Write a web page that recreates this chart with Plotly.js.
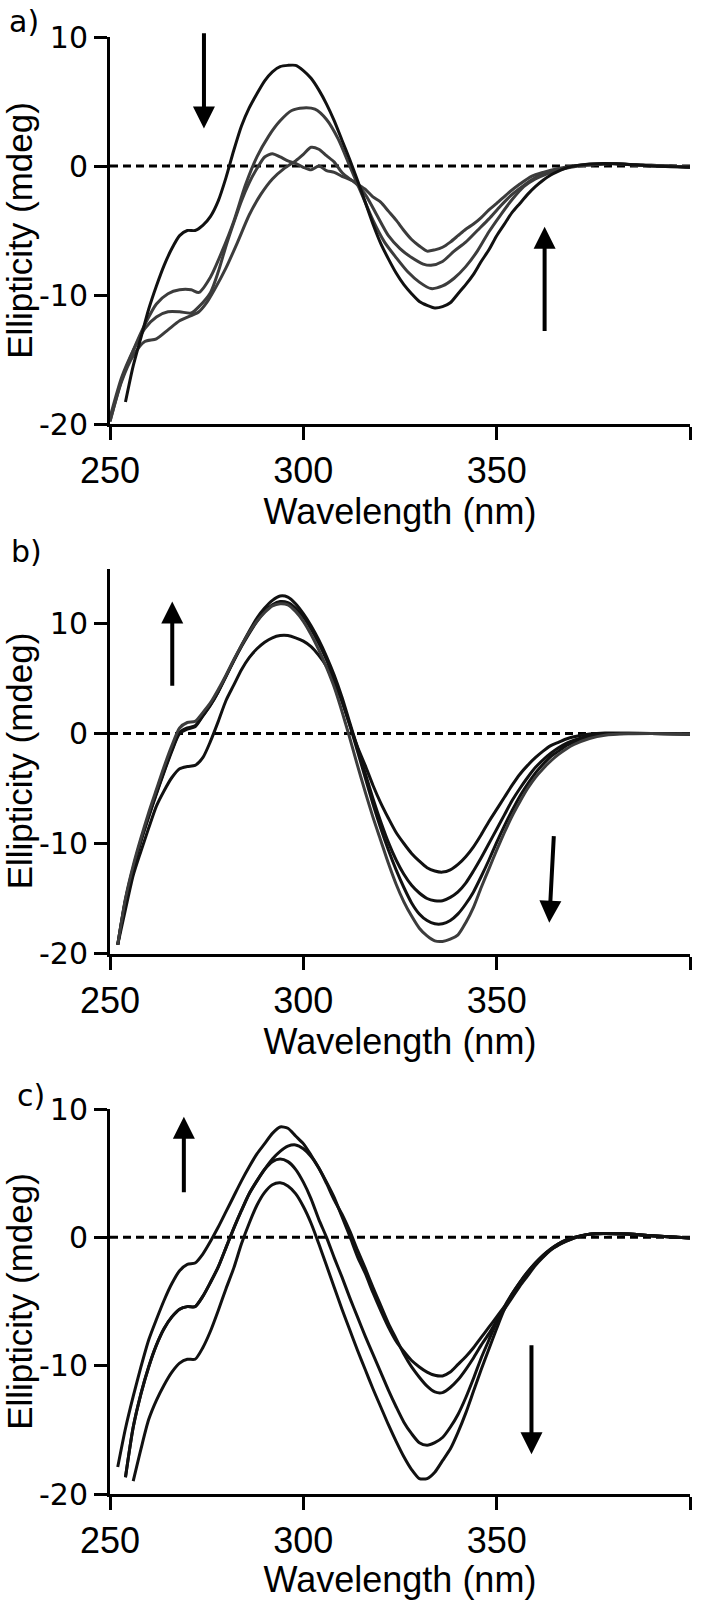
<!DOCTYPE html>
<html>
<head>
<meta charset="utf-8">
<script src="https://cdn.plot.ly/plotly-3.0.1.min.js"></script>
<style>html,body{margin:0;padding:0;background:#fff;}</style>
</head>
<body>
<div id="chart" style="width:718px;height:1600px;"></div>
<script>
// ---------- Panel a ----------
const aWl1 = [254,256,258,260,262,264,266,268,270,272,274,276,278,280,282,284,286,288,290,292,294,296,298,300,302,304,306,308,310,312,314,316,318,320,322,324,326,328,330,332,334,336,338,340,342,344,346,348,350,352,354,356,358,360,362,364,366,368,370,374,378,382,386,390,395,400];
const aCd1 = [-18.3,-15.5,-13.3,-11.1,-9.3,-7.7,-6.4,-5.4,-5.0,-5.0,-4.6,-3.9,-2.7,-0.9,1.2,3.1,4.5,5.6,6.6,7.3,7.7,7.8,7.8,7.4,6.8,5.9,4.8,3.5,2.0,0.5,-1.1,-2.8,-4.5,-6.0,-7.2,-8.3,-9.2,-9.9,-10.5,-10.8,-11.0,-10.9,-10.6,-9.9,-9.2,-8.4,-7.4,-6.5,-5.4,-4.5,-3.6,-2.9,-2.2,-1.6,-1.1,-0.7,-0.4,-0.15,0,0.15,0.2,0.15,0.1,0,-0.05,-0.1];

const aWl2 = [250,253,256,259,262,265,268,271,273,276,279,282,285,288,291,294,297,300,303,306,309,312,315,318,321,324,327,330,333,336,339,342,345,348,351,354,357,360,363,366,370,375,380,385,390,395,400];
const aCd2 = [-19.8,-16.6,-14.3,-12.3,-10.7,-9.9,-9.6,-9.6,-9.8,-8.6,-6.6,-4.3,-1.5,0.7,2.3,3.5,4.3,4.5,4.4,3.6,2.1,0.0,-2.1,-4.2,-5.9,-7.1,-8.2,-9.0,-9.5,-9.3,-8.7,-7.8,-6.6,-5.1,-3.8,-2.6,-1.6,-1.0,-0.6,-0.3,0,0.15,0.2,0.1,0.05,0,-0.1];

const aWl3 = [250,253,256,259,262,265,268,271,273,275,277,280,283,286,289,292,295,298,300,302,304,306,308,310,312,314,316,318,320,322,324,326,328,330,332,334,336,338,340,342,344,346,348,350,353,356,359,362,366,370,375,380,385,390,395,400];
const aCd3 = [-19.8,-16.7,-14.7,-13.6,-13.4,-12.7,-12.0,-11.6,-11.3,-10.6,-9.6,-7.9,-5.9,-3.8,-2.2,-1.0,-0.2,0.4,0.9,1.45,1.3,0.8,0.3,-0.5,-1.0,-1.4,-1.8,-2.4,-2.8,-3.5,-4.2,-5.0,-5.7,-6.2,-6.6,-6.5,-6.3,-5.9,-5.4,-4.9,-4.5,-4.0,-3.4,-2.9,-2.1,-1.4,-0.8,-0.5,-0.2,0,0.1,0.2,0.1,0,0,-0.1];

const aWl4 = [250,253,256,259,262,265,268,271,273,276,278,280,282,284,286,288,290,292,294,296,298,300,302,304,306,308,310,313,316,319,322,325,328,331,333,336,339,342,345,348,351,354,357,360,363,366,370,375,380,385,390,395,400];
const aCd4 = [-19.5,-16.4,-14.3,-12.6,-11.7,-11.3,-11.3,-11.4,-10.9,-9.8,-8.2,-6.2,-4.4,-2.7,-1.3,-0.2,0.7,0.95,0.7,0.4,0.2,-0.1,-0.3,0.0,-0.35,-0.5,-0.8,-1.2,-2.2,-3.8,-5.4,-6.4,-7.1,-7.6,-7.7,-7.4,-6.6,-5.9,-5.0,-4.1,-3.1,-2.2,-1.5,-0.9,-0.55,-0.3,-0.05,0.1,0.2,0.1,0.05,0,-0.1];

// ---------- Panel b ----------
const bWl = [252,254,256,258,260,262,264,266,268,270,272,274,276,278,280,282,284,286,288,290,292,294,296,298,300,302,304,306,308,310,312,314,316,318,320,322,324,326,328,330,332,334,336,338,340,342,344,346,348,350,352,354,356,358,360,362,364,366,368,370,374,378,384,390,400];
const bCd1 = [-19.2,-16.0,-12.9,-10.7,-8.6,-6.6,-5.2,-4.0,-3.2,-3.0,-2.9,-2.2,-0.7,1.1,3.0,4.4,5.8,6.9,7.7,8.3,8.7,8.9,8.9,8.7,8.4,7.9,7.1,6.1,4.7,2.9,0.8,-1.2,-2.9,-4.7,-6.3,-7.7,-9.0,-10.0,-10.9,-11.6,-12.2,-12.5,-12.6,-12.4,-11.9,-11.2,-10.3,-9.2,-8.0,-6.9,-5.8,-4.7,-3.7,-2.9,-2.2,-1.6,-1.1,-0.8,-0.5,-0.3,-0.05,0.05,0.02,0,-0.05];
const bCd2 = [-19.2,-15.2,-12.3,-9.8,-7.6,-5.5,-3.5,-1.6,0.0,0.4,0.6,1.6,2.6,3.8,5.2,6.6,8.0,9.3,10.5,11.4,12.1,12.5,12.4,11.8,10.9,9.8,8.5,7.0,5.3,3.3,1.0,-1.3,-3.6,-5.9,-8.0,-9.9,-11.5,-12.8,-13.8,-14.5,-15.0,-15.2,-15.2,-14.9,-14.4,-13.6,-12.5,-11.3,-10.0,-8.7,-7.4,-6.1,-5.0,-4.0,-3.1,-2.4,-1.8,-1.3,-0.9,-0.6,-0.2,0.0,0.02,0,-0.05];
const bCd3 = [-19.2,-15.1,-12.2,-9.7,-7.5,-5.4,-3.4,-1.5,0.1,0.5,0.7,1.6,2.6,3.8,5.2,6.6,7.9,9.1,10.2,11.1,11.7,12.0,11.9,11.4,10.6,9.5,8.2,6.7,5.0,3.0,0.8,-1.6,-4.0,-6.4,-8.6,-10.6,-12.4,-14.0,-15.4,-16.4,-17.0,-17.3,-17.3,-17.0,-16.4,-15.5,-14.4,-13.0,-11.5,-9.9,-8.4,-7.0,-5.7,-4.6,-3.6,-2.8,-2.1,-1.6,-1.1,-0.8,-0.3,-0.05,0,0,-0.05];
const bCd4 = [-19.2,-15.0,-12.0,-9.5,-7.2,-5.1,-3.0,-1.1,0.5,1.0,1.1,1.9,2.8,4.0,5.3,6.7,8.0,9.2,10.2,11.0,11.6,11.8,11.7,11.1,10.2,9.0,7.6,6.0,4.2,2.0,-0.4,-2.9,-5.3,-7.6,-9.7,-11.8,-13.7,-15.3,-16.6,-17.7,-18.4,-18.85,-18.9,-18.7,-18.3,-17.2,-15.8,-14.0,-12.3,-10.6,-9.0,-7.5,-6.2,-5.0,-4.0,-3.2,-2.5,-1.9,-1.4,-1.0,-0.45,-0.15,-0.03,0,-0.05];

// ---------- Panel c ----------
const cWl1 = [252,254,256,258,260,262,264,266,268,270,272,274,276,278,280,282,284,286,288,290,292,294,296,298,300,302,304,306,308,310,312,314,316,318,320,322,324,326,328,330,332,334,336,338,340,342,344,346,348,350,352,354,356,358,360,362,364,366,368,370,374,378,384,390,400];
const cCd1 = [-17.9,-14.9,-12.4,-10.1,-8.0,-6.4,-4.9,-3.6,-2.6,-2.1,-2.0,-1.3,-0.3,0.8,2.0,3.2,4.4,5.5,6.5,7.3,8.1,8.6,8.5,7.9,7.3,6.4,5.4,4.3,3.1,1.6,0.1,-1.5,-2.8,-4.3,-5.7,-7.0,-8.1,-8.9,-9.6,-10.1,-10.5,-10.75,-10.8,-10.5,-9.9,-9.3,-8.6,-7.8,-7.0,-6.2,-5.4,-4.6,-3.7,-2.9,-2.1,-1.5,-0.95,-0.6,-0.3,-0.05,0.25,0.3,0.25,0.12,-0.05];

const cWl2 = [254,256,258,260,262,264,266,268,270,272,274,276,278,280,282,284,286,288,290,292,294,296,298,300,302,304,306,308,310,312,314,316,318,320,322,324,326,328,330,332,334,336,338,340,342,344,346,348,350,352,354,356,358,360,362,364,366,368,370,374,378,384,390,400];
const cCd2 = [-18.7,-14.8,-12.2,-10.1,-8.4,-7.1,-6.2,-5.6,-5.4,-5.4,-4.6,-3.5,-2.3,-0.8,0.7,2.1,3.4,4.4,5.3,6.1,6.7,7.1,7.2,6.9,6.3,5.4,4.2,2.9,1.8,0.5,-1.0,-2.4,-3.9,-5.3,-6.7,-7.9,-9.1,-10.1,-10.9,-11.6,-12.05,-12.1,-11.7,-11.1,-10.3,-9.4,-8.4,-7.5,-6.5,-5.6,-4.7,-3.8,-3.0,-2.2,-1.55,-1.0,-0.6,-0.3,-0.05,0.25,0.3,0.25,0.12,-0.05];
const cCd3 = [-18.7,-14.8,-12.2,-10.1,-8.4,-7.1,-6.2,-5.6,-5.4,-5.4,-4.6,-3.5,-2.3,-0.8,0.7,2.1,3.4,4.4,5.3,5.9,6.1,5.9,5.3,4.3,3.0,1.4,0.0,-1.6,-3.1,-4.7,-6.2,-7.7,-9.1,-10.5,-11.9,-13.2,-14.4,-15.3,-16.0,-16.2,-16.0,-15.6,-14.8,-13.8,-12.5,-11.0,-9.4,-8.0,-6.6,-5.4,-4.4,-3.5,-2.7,-2.0,-1.4,-0.9,-0.5,-0.2,0.0,0.25,0.3,0.25,0.12,-0.05];

const cWl4 = [256,258,260,262,264,266,268,270,272,274,276,278,280,282,284,286,288,290,292,294,296,298,300,302,304,306,308,310,312,314,316,318,320,322,324,326,328,330,332,334,336,338,340,342,344,346,348,350,352,354,356,358,360,362,364,366,368,370,374,378,384,390,400];
const cCd4 = [-19.0,-16.5,-14.2,-12.7,-11.5,-10.5,-9.8,-9.5,-9.5,-8.6,-7.3,-5.7,-4.0,-2.4,-0.5,1.1,2.5,3.5,4.1,4.25,4.0,3.4,2.4,1.1,-0.5,-2.2,-3.9,-5.6,-7.2,-8.8,-10.3,-11.8,-13.2,-14.6,-15.9,-17.1,-18.1,-18.8,-18.8,-18.3,-17.4,-16.5,-15.2,-13.7,-12.0,-10.3,-8.7,-7.1,-5.6,-4.4,-3.5,-2.7,-2.0,-1.4,-0.9,-0.5,-0.2,0.0,0.25,0.3,0.25,0.12,-0.05];

// ---------- Axis ticks ----------
const xTickVals = [250,300,350,400];
const xTickText = ['250','300','350','400'];
const yTickVals = [-20,-10,0,10];
const yTickText = ['-20','-10','0','10'];
const zeroWl = [250,400];
const zeroCd = [0,0];

// arrows [tailX, tailY, tipX, tipY]
const aArrows = [[274.3,10.4,274.3,2.9],[362.4,-12.9,362.4,-4.7]];
const bArrows = [[266.1,4.2,266.1,12.0],[364.8,-9.2,363.6,-17.2]];
const cArrows = [[269.1,3.4,269.1,9.4],[359.0,-8.3,359.0,-16.9]];

const BLACK = '#111111';
const GRAY = '#3c3c3c';
const WIDEFONT = 'DejaVu Sans, Arial, sans-serif';
const ARIAL = 'Liberation Sans, Arial, sans-serif';

function curve(x, y, color, xa, ya) {
  return {x: x, y: y, type: 'scatter', mode: 'lines', xaxis: xa, yaxis: ya,
    line: {color: color, width: 3, shape: 'spline', smoothing: 0.7}, hoverinfo: 'skip'};
}
function zero(xa, ya) {
  return {x: zeroWl, y: zeroCd, type: 'scatter', mode: 'lines', xaxis: xa, yaxis: ya,
    line: {color: '#000', width: 3, dash: '8px,5px'}, hoverinfo: 'skip'};
}

const data = [
  zero('x','y'),
  curve(aWl4, aCd4, GRAY, 'x', 'y'),
  curve(aWl3, aCd3, GRAY, 'x', 'y'),
  curve(aWl2, aCd2, GRAY, 'x', 'y'),
  curve(aWl1, aCd1, BLACK, 'x', 'y'),
  zero('x2','y2'),
  curve(bWl, bCd1, BLACK, 'x2', 'y2'),
  curve(bWl, bCd2, BLACK, 'x2', 'y2'),
  curve(bWl, bCd3, BLACK, 'x2', 'y2'),
  curve(bWl, bCd4, GRAY, 'x2', 'y2'),
  zero('x3','y3'),
  curve(cWl1, cCd1, BLACK, 'x3', 'y3'),
  curve(cWl2, cCd2, BLACK, 'x3', 'y3'),
  curve(cWl2, cCd3, BLACK, 'x3', 'y3'),
  curve(cWl4, cCd4, BLACK, 'x3', 'y3')
];

const xDom = [110/718, 690/718];
function xAxis(anchor) {
  return {domain: xDom, anchor: anchor, range: [250, 400], showline: true, linewidth: 3, linecolor: '#000',
    ticks: 'outside', ticklen: 13, tickwidth: 3, tickcolor: '#000', tickvals: xTickVals, ticktext: xTickText,
    showgrid: false, zeroline: false, automargin: false,
    tickfont: {family: ARIAL, size: 36, color: '#000'},
    title: {text: 'Wavelength (nm)', font: {family: ARIAL, size: 36, color: '#000'}, standoff: 8}};
}
function yAxis(anchor, dom, range) {
  return {domain: dom, anchor: anchor, range: range, showline: true, linewidth: 3, linecolor: '#000',
    ticks: 'outside', ticklen: 13, tickwidth: 3, tickcolor: '#000', tickvals: yTickVals, ticktext: yTickText,
    showgrid: false, zeroline: false, automargin: false,
    tickfont: {family: WIDEFONT, size: 30, color: '#000'},
    title: {text: 'Ellipticity (mdeg)', font: {family: ARIAL, size: 35, color: '#000'}, standoff: 2}};
}

function arrowAnn(arr, xr, yr) {
  return arr.map(a => ({x: a[2], y: a[3], ax: a[0], ay: a[1], xref: xr, yref: yr, axref: xr, ayref: yr,
    text: '', showarrow: true, arrowhead: 2, arrowsize: 1.1, arrowwidth: 4, arrowcolor: '#000'}));
}

const annotations = [
  {text: 'a)', x: 7/718, y: 1 - 21/1600, xref: 'paper', yref: 'paper', xanchor: 'left', yanchor: 'middle', showarrow: false, font: {family: WIDEFONT, size: 30, color: '#000'}},
  {text: 'b)', x: 9/718, y: 1 - 551/1600, xref: 'paper', yref: 'paper', xanchor: 'left', yanchor: 'middle', showarrow: false, font: {family: WIDEFONT, size: 30, color: '#000'}},
  {text: 'c)', x: 15/718, y: 1 - 1095/1600, xref: 'paper', yref: 'paper', xanchor: 'left', yanchor: 'middle', showarrow: false, font: {family: WIDEFONT, size: 30, color: '#000'}}
].concat(arrowAnn(aArrows, 'x', 'y'), arrowAnn(bArrows, 'x2', 'y2'), arrowAnn(cArrows, 'x3', 'y3'));

const layout = {
  width: 718, height: 1600,
  margin: {l: 0, r: 0, t: 0, b: 0},
  paper_bgcolor: '#fff', plot_bgcolor: '#fff',
  showlegend: false,
  font: {family: ARIAL, color: '#000'},
  xaxis: xAxis('y'),
  yaxis: yAxis('x', [1 - 424/1600, 1 - 37/1600], [-20, 10]),
  xaxis2: xAxis('y2'),
  yaxis2: yAxis('x2', [1 - 953.5/1600, 1 - 568.5/1600], [-20, 15]),
  xaxis3: xAxis('y3'),
  yaxis3: yAxis('x3', [1 - 1494/1600, 1 - 1109/1600], [-20, 10]),
  annotations: annotations
};

Plotly.newPlot('chart', data, layout, {displayModeBar: false, staticPlot: true});
</script>
</body>
</html>
